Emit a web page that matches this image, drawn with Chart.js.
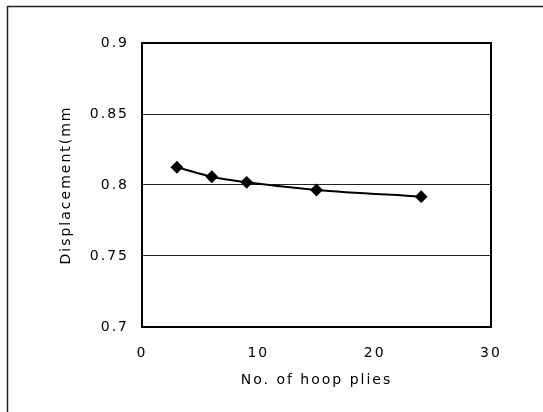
<!DOCTYPE html>
<html>
<head>
<meta charset="utf-8">
<script src="https://cdn.jsdelivr.net/npm/chart.js@4"></script>
<style>
html,body{margin:0;padding:0;background:#fff;}
canvas{display:block;}
</style>
</head>
<body>
<canvas id="c" width="543" height="412"></canvas>
<script>
const hoopPlies = [3, 6, 9, 15, 24];
const displacement = [0.8125, 0.8058, 0.8019, 0.7965, 0.7918];
const xTicks = [0, 10, 20, 30];
const yTicks = [0.7, 0.75, 0.8, 0.85, 0.9];

const FONT = "'DejaVu Sans', Verdana, sans-serif";
const LS = '2px';

const framePlugin = {
  id: 'frame',
  beforeUpdate(chart) { chart.ctx.letterSpacing = LS; },
  beforeLayout(chart) { chart.ctx.letterSpacing = LS; },
  beforeDraw(chart) {
    const ctx = chart.ctx;
    ctx.letterSpacing = LS;
    ctx.save();
    ctx.strokeStyle = '#222';
    ctx.lineWidth = 1.5;
    ctx.beginPath();
    ctx.moveTo(7.5, 412);
    ctx.lineTo(7.5, 6.5);
    ctx.lineTo(543, 6.5);
    ctx.stroke();
    ctx.restore();
  },
  beforeDatasetsDraw(chart) {
    const {ctx, chartArea: a} = chart;
    ctx.save();
    ctx.strokeStyle = '#000';
    ctx.lineWidth = 2;
    ctx.strokeRect(a.left, a.top, a.right - a.left, a.bottom - a.top);
    ctx.restore();
  }
};

new Chart(document.getElementById('c'), {
  type: 'scatter',
  data: {
    datasets: [{
      data: hoopPlies.map((x, i) => ({x: x, y: displacement[i]})),
      showLine: true,
      borderColor: '#000',
      backgroundColor: '#000',
      borderWidth: 2,
      cubicInterpolationMode: 'monotone',
      pointStyle: 'rectRot',
      pointRadius: 5,
      pointHoverRadius: 5
    }]
  },
  options: {
    responsive: false,
    animation: false,
    devicePixelRatio: 1,
    layout: {padding: {left: 0, top: 43, right: 52, bottom: 0}},
    plugins: {legend: {display: false}, tooltip: {enabled: false}},
    scales: {
      x: {
        type: 'linear',
        min: 0, max: 30,
        afterBuildTicks(s) { s.ticks = xTicks.map(v => ({value: v})); },
        afterFit(s) { s.height = 85; },
        grid: {display: false, drawTicks: false},
        border: {display: false},
        ticks: {color: '#000', font: {family: FONT, size: 14}, padding: 18},
        title: {display: true, text: 'No. of hoop plies', color: '#000',
                font: {family: FONT, size: 14}, padding: {top: 0, bottom: 23}}
      },
      y: {
        type: 'linear',
        min: 0.7, max: 0.9,
        afterBuildTicks(s) { s.ticks = yTicks.map(v => ({value: v})); },
        afterFit(s) { s.width = 142; },
        grid: {color: '#222', lineWidth: 1, drawTicks: false},
        border: {display: false},
        ticks: {color: '#000', font: {family: FONT, size: 14}, padding: 13,
                callback: v => String(+v.toFixed(2))},
        title: {display: true, text: 'Displacement(mm', color: '#000',
                font: {family: FONT, size: 14}, padding: {top: 58, bottom: 0}}
      }
    }
  },
  plugins: [framePlugin]
});
</script>
</body>
</html>
